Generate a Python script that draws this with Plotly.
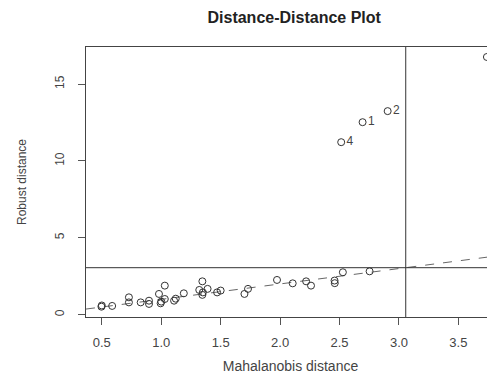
import plotly.graph_objects as go

# Regular points (Mahalanobis distance, Robust distance)
md = [0.497, 0.587, 0.728, 0.728, 0.827, 0.897, 0.897, 0.981, 0.995, 1.03,
      1.03, 1.108, 1.122, 1.19, 1.32, 1.346, 1.346, 1.39, 1.47, 1.50,
      1.70, 1.73, 1.974, 2.106, 2.219, 2.26, 2.458, 2.528, 2.753, 0.50,
      1.00, 1.35, 2.46]
rd = [0.52, 0.57, 1.13, 0.80, 0.80, 0.91, 0.70, 1.35, 0.74, 1.89,
      1.02, 0.91, 1.04, 1.39, 1.61, 2.17, 1.29, 1.68, 1.45, 1.57,
      1.35, 1.68, 2.26, 2.04, 2.17, 1.89, 2.22, 2.76, 2.82, 0.60,
      0.85, 1.45, 2.05]

# Labelled outliers
out_md = [2.514, 2.694, 2.905, 3.74]
out_rd = [11.22, 12.52, 13.24, 16.76]
out_lab = ["4", "1", "2", "3"]

cutoff = 3.057
x_range = [0.367, 3.808]
y_range = [-0.15, 17.41]
x_ticks = [0.5, 1.0, 1.5, 2.0, 2.5, 3.0, 3.5]
x_tick_text = ["0.5", "1.0", "1.5", "2.0", "2.5", "3.0", "3.5"]
y_ticks = [0, 5, 10, 15]

font = "Liberation Sans, Arial, sans-serif"
fig = go.Figure()

fig.add_trace(go.Scatter(
    x=md, y=rd, mode="markers",
    marker=dict(symbol="circle-open", size=7, color="#333333", line=dict(width=1)),
    showlegend=False, hoverinfo="skip"))

fig.add_trace(go.Scatter(
    x=out_md, y=out_rd, mode="markers+text", text=out_lab,
    textposition="middle right",
    textfont=dict(family=font, size=12, color="#444444"),
    marker=dict(symbol="circle-open", size=7, color="#333333", line=dict(width=1)),
    showlegend=False, hoverinfo="skip", cliponaxis=False))

# identity dashed line
fig.add_shape(type="line", xref="x", yref="y",
              x0=x_range[0], y0=x_range[0], x1=x_range[1], y1=x_range[1],
              line=dict(color="#666666", width=1, dash="dash"), layer="below")
# cutoff lines
fig.add_shape(type="line", xref="paper", yref="y", x0=0, x1=1, y0=cutoff, y1=cutoff,
              line=dict(color="#333333", width=1))
fig.add_shape(type="line", xref="x", yref="paper", x0=cutoff, x1=cutoff, y0=0, y1=1,
              line=dict(color="#333333", width=1))

fig.update_layout(
    width=487, height=366,
    margin=dict(l=78, r=0, t=39, b=57, autoexpand=False),
    paper_bgcolor="white", plot_bgcolor="white",
    font=dict(family=font, size=11, color="#444444"),
    title=dict(text="<b>Distance-Distance Plot</b>", x=0.509, xref="paper",
               xanchor="center", y=0.973, yanchor="middle",
               font=dict(family=font, size=16, color="#222222")),
    xaxis=dict(range=x_range, tickvals=x_ticks, ticktext=x_tick_text,
               tickfont=dict(family=font, size=13, color="#444444"),
               showgrid=False, zeroline=False, showline=True, mirror=True,
               linecolor="#444444", linewidth=1, ticks="outside", ticklen=7,
               tickcolor="#555555", ticklabelstandoff=6, automargin=False,
               title=dict(text="Mahalanobis distance", standoff=14,
                          font=dict(family=font, size=14, color="#444444"))),
    yaxis=dict(range=y_range, tickvals=y_ticks, tickangle=-90,
               tickfont=dict(family=font, size=12, color="#444444"),
               showgrid=False, zeroline=False, showline=True, mirror=False,
               linecolor="#444444", linewidth=1, ticks="outside", ticklen=7,
               tickcolor="#555555", ticklabelstandoff=9, automargin=False,
               title=dict(text="Robust distance", standoff=24,
                          font=dict(family=font, size=12, color="#444444"))),
)

fig.write_html("out.html")
